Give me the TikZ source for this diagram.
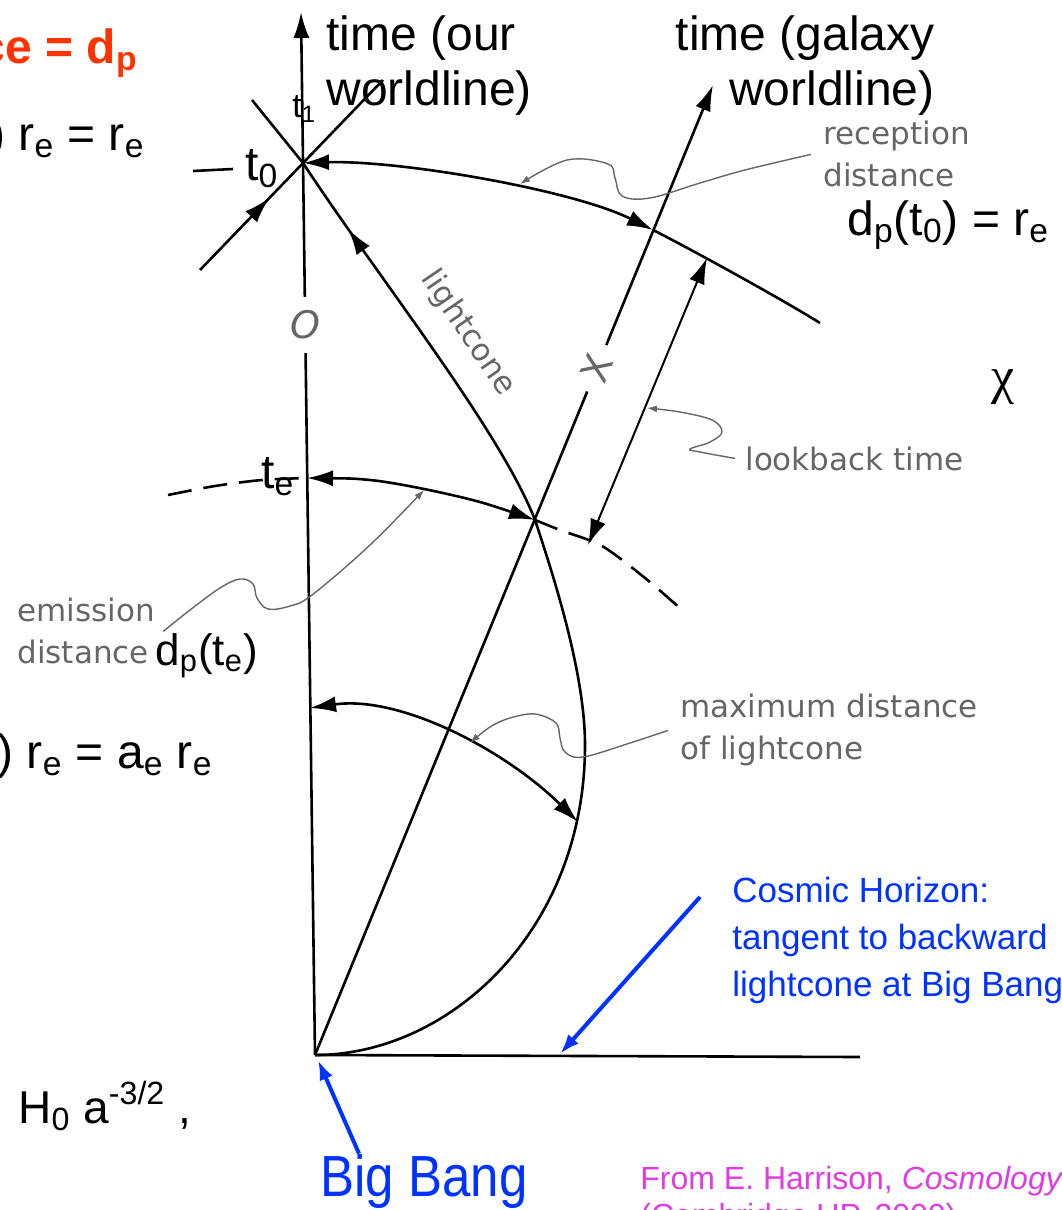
\documentclass[tikz,border=0pt]{standalone}
\usepackage{fontspec}
\setmainfont{Liberation Sans}
\newfontfamily\bookfont{DejaVu Sans}
\newfontfamily\greekfont{Liberation Serif}
\newfontfamily\narrowfont[FakeStretch=0.88]{Liberation Sans}
\usepackage{tikz}
\usetikzlibrary{arrows.meta, calc, decorations.markings}
\definecolor{dpRed}{HTML}{FF3300}
\definecolor{hzBlue}{HTML}{0033FF}
\definecolor{refMagenta}{HTML}{E03CE0}
\colorlet{bookgrey}{black!60}

\begin{document}
\begin{tikzpicture}[x=0.5pt, y=-0.5pt,
  arr/.tip={Latex[length=13pt,width=8pt]},
  sarr/.tip={Latex[length=5pt,width=3.5pt]},
  barr/.tip={Latex[length=10pt,width=7pt]},
  wl/.style={line width=1.3pt},
  dashline/.style={wl, dash pattern=on 12pt off 6pt},
  lead/.style={line width=0.7pt, draw=bookgrey, -{sarr}},
  eq/.style={inner sep=0pt, font=\fontsize{24}{27.5}\selectfont},
  book/.style={inner sep=0pt, text=bookgrey, align=left, font=\bookfont\fontsize{15.5}{21}\selectfont},
  note/.style={inner sep=0pt, text=hzBlue, align=left, font=\fontsize{17.5}{23.5}\selectfont},
  bluearrow/.style={draw=hzBlue, line width=2pt, -{barr}},
  midarr/.style={postaction={decorate}, decoration={markings, mark=at position #1 with {\arrow{arr}}}},
  midback/.style={postaction={decorate}, decoration={markings, mark=at position #1 with {\arrowreversed{arr}}}},
]
  \useasboundingbox (0,0) rectangle (1061,1210);
  \coordinate (bb) at (315,1055);
  \coordinate (ourtip) at (301,12);
  \coordinate (tzero) at (303,163);
  \coordinate (galtip) at (713,85);
  \coordinate (emit) at (535,520);
  \coordinate (maxpt) at (585,745);
  \coordinate (gcross) at (653,230);
  \coordinate (tepoint) at (307,478);
  \coordinate (maxleft) at (310,708);
  \coordinate (maxright) at (578,822);
  \coordinate (lbtop) at (707,258);
  \coordinate (lbbot) at (588,545);
  \coordinate (hzend) at (860,1057);
  \coordinate (hztip) at (560,1054);
  \coordinate (laLow) at (200,270);
  \coordinate (laHigh) at (383,80);
  \coordinate (lcUp) at (252,100);
  \coordinate (rectip) at (520,184);
  \coordinate (lbtip) at (647,408);
  \coordinate (emtip) at (424,490);
  \coordinate (maxtip) at (470,743);

  % worldlines and light rays
  \draw[wl, -{arr}] (bb) -- node[pos=0.70, fill=white, inner xsep=2pt, inner ysep=7pt, text=bookgrey,
    font=\bookfont\itshape\fontsize{19}{22}\selectfont] (olab) {O} (ourtip);
  \draw[wl, -{arr}] (bb) -- node[pos=0.708, sloped, fill=white, inner xsep=6pt, inner ysep=1pt, text=bookgrey,
    font=\bookfont\fontsize{19}{22}\selectfont] (xlab) {X} (galtip);
  \draw[wl, midarr=50pt] (laLow) -- (laHigh);
  \draw[wl] (tzero) -- (lcUp);
  \draw[wl, midback=40pt] (tzero) .. controls (380,280) and (500,430) .. (emit)
    .. controls (555,580) and (585,675) .. (maxpt) .. controls (585,930) and (450,1055) .. (bb);
  \draw[wl] (bb) -- (hzend);

  % distances
  \draw[wl] (193,171) -- (233,169);
  \draw[wl, {arr}-{arr}] (tzero) .. controls (400,160) and (573,190) .. (gcross);
  \draw[wl] (gcross) .. controls (683,245) and (780,298) .. (820,323);
  \draw[dashline] plot[smooth] coordinates {(168,495) (215,486) (262,480) (tepoint)};
  \draw[wl, {arr}-{arr}] plot[smooth] coordinates {(tepoint) (370,480) (424,489) (480,502) (emit)};
  \draw[dashline] plot[smooth] coordinates {(emit) (560,530) (602,546) (645,578) (682,610)};
  \draw[line width=1pt, {arr}-{arr}] (lbbot) -- (lbtop);
  \draw[wl, {arr}-{arr}] (maxleft) .. controls (400,695) and (505,750) .. (maxright);

  % labels
  \node[eq, anchor=base east, text=dpRed, font=\bfseries\fontsize{24}{27.5}\selectfont] (dplead) at (138,63) {ce = d\textsubscript{p}};
  \node[eq, anchor=base east] (eqtop) at (145,150) {) r\textsubscript{e} = r\textsubscript{e}};
  \node[eq, anchor=base west] (tzlab) at (245,180) {t\textsubscript{0}};
  \node[eq, anchor=base west, font=\fontsize{17}{20}\selectfont] (tonelab) at (292,117) {t\textsubscript{1}};
  \node[eq, anchor=base west] (telab) at (261,488) {t\textsubscript{e}};
  \node[eq, anchor=north west, align=left] (ourtime) at (326,15) {time (our\\worldline)};
  \node[eq, anchor=north east, align=right] (galtime) at (935,15) {time (galaxy\\worldline)};
  \node[book, anchor=north west] (reclab) at (823,121) {reception\\distance};
  \node[eq, anchor=base west] (dpnow) at (847,235) {d\textsubscript{p}(t\textsubscript{0}) = r\textsubscript{e}};
  \node[eq, font=\greekfont\fontsize{26}{28}\selectfont] (chilab) at (1003,387) {χ};
  \node[book, anchor=base west] (lblab) at (745,470) {lookback time};
  \node[book, anchor=north west, align=left] (emlab) at (17,598) {emission\\distance};
  \node[eq, anchor=base west, font=\fontsize{22}{26}\selectfont] (dpthen) at (155,665) {d\textsubscript{p}(t\textsubscript{e})};
  \node[eq, anchor=base east] (eqmid) at (213,768) {\textsubscript{e}) r\textsubscript{e} = a\textsubscript{e} r\textsubscript{e}};
  \node[book, anchor=north west] (maxlab) at (680,694) {maximum distance\\of lightcone};
  \node[book, rotate=-55.6] (lclab) at (468,333) {lightcone};
  \node[eq, anchor=base west, font=\fontsize{23}{26}\selectfont] (hlab) at (18,1123) {H\textsubscript{0} a\textsuperscript{-3/2} ,};
  \node[note, anchor=north west] (hzlab) at (732,877) {Cosmic Horizon:\\tangent to backward\\lightcone at Big Bang};
  \node[inner sep=0pt, anchor=base west, text=hzBlue, font=\narrowfont\fontsize{29}{32}\selectfont] (bblab) at (320,1196) {Big Bang};
  \node[inner sep=0pt, anchor=north west, align=left, text=refMagenta, font=\fontsize{16}{18.5}\selectfont] (credit) at (640,1166)
    {From E. Harrison, \textit{Cosmology}\\(Cambridge UP, 2000)};

  % leaders
  \draw[lead] plot[smooth, tension=0.6] coordinates {([xshift=-6pt]reclab.west) (745,170) (700,183) (650,198) (622,196) (615,178) (608,164) (567,160) (rectip)};
  \draw[lead] plot[smooth, tension=0.6] coordinates {([xshift=-5pt]lblab.west) (700,452) (690,449) (710,442) (722,432) (712,420) (680,412) (lbtip)};
  \draw[lead] plot[smooth, tension=0.6] coordinates {([xshift=4pt]emlab.east) (190,610) (220,588) (240,579) (253,584) (257,598) (268,609) (290,606) (312,595) (370,545) (emtip)};
  \draw[lead] plot[smooth, tension=0.6] coordinates {([xshift=-6pt]maxlab.west) (630,743) (583,757) (565,752) (560,738) (556,723) (535,714) (510,718) (490,727) (maxtip)};
  \draw[bluearrow] ($(hzlab.north west)+(-32,20)$) -- (hztip);
  \draw[bluearrow] ($(bblab.north west)+(39,0)$) -- ($(bb)+(3,5)$);
\end{tikzpicture}
\end{document}
